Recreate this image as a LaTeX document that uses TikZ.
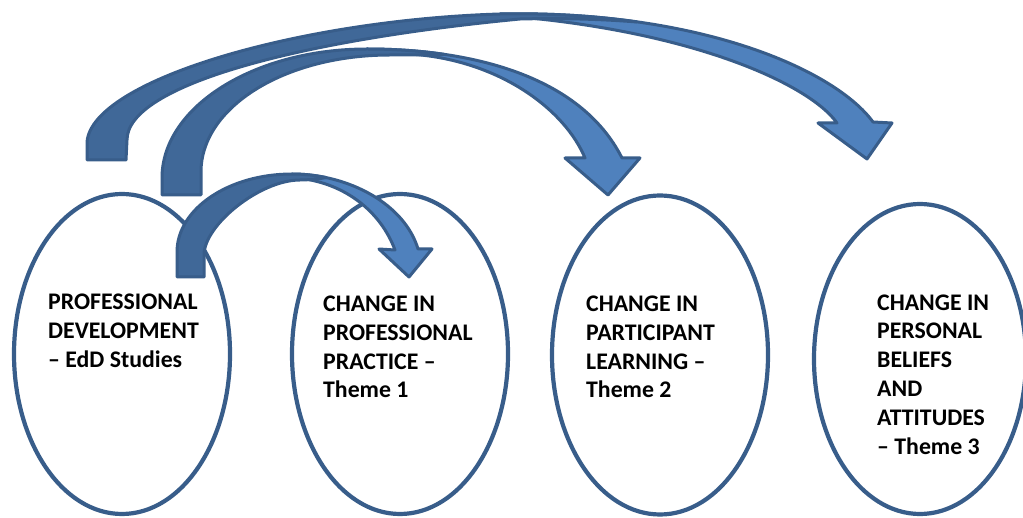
\documentclass[tikz,border=0pt]{standalone}
\usepackage{fontspec}
\setmainfont{Carlito}
\usetikzlibrary{shapes.geometric}
\definecolor{edgeblue}{RGB}{56,93,138}
\definecolor{backblue}{RGB}{64,104,152}
\definecolor{frontblue}{RGB}{79,129,189}
\begin{document}
\begin{tikzpicture}[x=1pt,y=-1pt,
  ovalnode/.style={ellipse, draw=edgeblue, line width=4.2pt, fill=white, inner sep=0pt},
  txt/.style={anchor=base west, align=left, inner sep=0pt, font=\fontsize{23.8}{28.8}\selectfont\bfseries},
  backband/.style={fill=backblue, draw=edgeblue, line width=3pt, line join=round},
  frontband/.style={fill=frontblue, draw=edgeblue, line width=3pt, line join=round}]
\useasboundingbox (0,0) rectangle (1023,518);

% ellipses
\node[ovalnode, minimum width=216pt, minimum height=320pt] (e1) at (122,354) {};
\node[ovalnode, minimum width=216pt, minimum height=320pt] (e2) at (400,354) {};
\node[ovalnode, minimum width=216pt, minimum height=319pt] (e3) at (660,355) {};
\node[ovalnode, minimum width=212pt, minimum height=310pt] (e4) at (920,359) {};

% texts (anchor at the baseline of the last line)
\node[txt] (t1) at (48,367.6) {PROFESSIONAL\\DEVELOPMENT\\– EdD Studies};
\node[txt] (t2) at (323,398) {CHANGE IN\\PROFESSIONAL\\PRACTICE –\\Theme 1};
\node[txt] (t3) at (586,398) {CHANGE IN\\PARTICIPANT\\LEARNING –\\Theme 2};
\node[txt] (t4) at (877,454) {CHANGE IN\\PERSONAL\\BELIEFS\\AND\\ATTITUDES\\– Theme 3};

% arrow C (largest)
\draw[frontband] (500,14) .. controls (700,10) and (835,70) .. (873,122)
  -- (892,123) -- (867,159) -- (818,123) -- (837,123)
  .. controls (810,85) and (700,35) .. (530,18) -- cycle;
\draw[backband] (87,160) -- (87,142) .. controls (92,80) and (300,20) .. (500,14)
  .. controls (550,13) and (596,16) .. (637,22)
  .. controls (600,19) and (560,18) .. (520,19)
  .. controls (300,40) and (127,85) .. (127,140) -- (126,160) -- cycle;

% arrow B (middle)
\draw[frontband] (367,49) .. controls (470,49) and (580,75) .. (622,158)
  -- (640,158) -- (608,195) -- (565,158) -- (585,158)
  .. controls (565,110) and (500,60) .. (410,54) -- cycle;
\draw[backband] (162,195) -- (162,178) .. controls (162,107) and (254,49) .. (367,49)
  .. controls (392.75,49) and (418.9,50.6) .. (444,54.4)
  .. controls (425,55) and (405,55) .. (390,55)
  .. controls (285,55) and (201,107) .. (201,172) -- (201,195) -- cycle;

% arrow A (small)
\draw[frontband] (292,174) .. controls (350,174) and (405,205) .. (418,249)
  -- (432,249) -- (409,277) -- (379,249) -- (395,250)
  .. controls (382,215) and (350,186) .. (305,179) -- cycle;
\draw[backband] (177,277) -- (177,252) .. controls (177,209) and (228.5,174) .. (292,174)
  .. controls (303.6,174) and (315.1,175.2) .. (326.1,177.6)
  .. controls (318,179) and (308,180) .. (300,180)
  .. controls (260,180) and (204,225) .. (204,255) -- (204,277) -- cycle;
\end{tikzpicture}
\end{document}
